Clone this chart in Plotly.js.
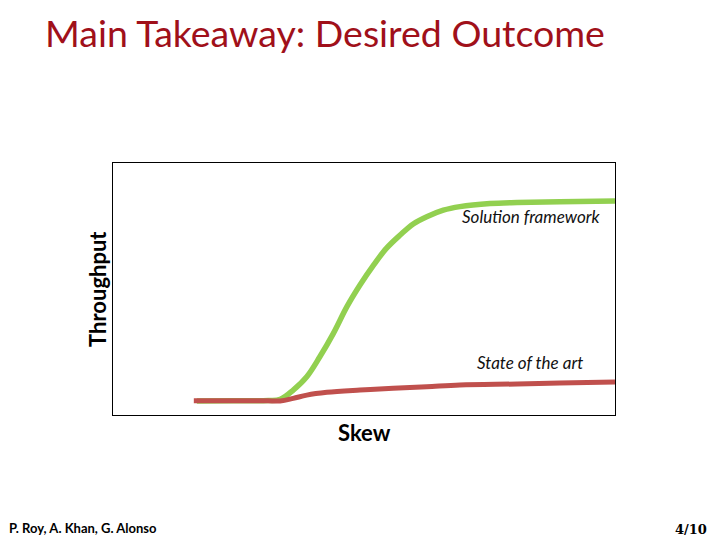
<!DOCTYPE html>
<html>
<head>
<meta charset="utf-8">
<script src="https://cdn.plot.ly/plotly-3.0.1.min.js"></script>
<style>html,body{margin:0;padding:0;background:#fff;}#chart{width:720px;height:540px;}</style>
</head>
<body>
<div id="chart"></div>
<script>
// Data (arbitrary units: skew 0-100, throughput 0-100)
const solutionSkew = [16.7, 24, 31.0, 33.3, 35.9, 38.6, 41.2, 43.9, 46.6, 49.2, 51.9, 54.5, 57.2, 59.8, 62.5, 65.8, 69.1, 75.1, 80.5, 89.0, 100];
const solutionThroughput = [5.6, 5.7, 5.75, 6.2, 9.9, 15.2, 23.1, 32.4, 43.0, 51.6, 59.5, 66.2, 71.4, 75.8, 78.7, 81.3, 82.7, 83.9, 84.3, 84.6, 84.9];
const stateSkew = [16.1, 24, 29.3, 33.3, 35.9, 38.6, 42.6, 49.2, 55.8, 62.5, 69.1, 80.5, 89.0, 100];
const stateThroughput = [5.7, 5.65, 5.7, 5.6, 6.6, 7.9, 9.0, 9.9, 10.6, 11.2, 11.9, 12.3, 12.7, 13.1];
const seriesNames = ["Solution framework", "State of the art"];
const titleText = "Main Takeaway: Desired Outcome";
const xTitle = "Skew";
const yTitle = "Throughput";
const footerLeft = "P. Roy, A. Khan, G. Alonso";
const footerRight = "4/10";

const traces = [
  {x: solutionSkew, y: solutionThroughput, name: seriesNames[0], mode: 'lines',
   line: {color: '#92D050', width: 5.5, shape: 'spline', smoothing: 1.0}},
  {x: stateSkew, y: stateThroughput, name: seriesNames[1], mode: 'lines',
   line: {color: '#C0504D', width: 5, shape: 'spline', smoothing: 1.0}}
];

const layout = {
  width: 720, height: 540,
  margin: {l: 113, r: 105, t: 163, b: 125},
  paper_bgcolor: '#ffffff', plot_bgcolor: '#ffffff',
  showlegend: false,
  font: {family: 'Lato, "Open Sans", sans-serif', color: '#000'},
  title: {text: titleText, x: 0.0625, xanchor: 'left', y: 0.937, yanchor: 'middle',
          xref: 'container', yref: 'container', font: {family: 'Lato, sans-serif', size: 37.5, color: '#A0101A'}},
  xaxis: {range: [0, 100], showgrid: false, zeroline: false, showticklabels: false, ticks: '',
          showline: true, mirror: true, linecolor: '#000', linewidth: 1, fixedrange: true},
  yaxis: {range: [0, 100], showgrid: false, zeroline: false, showticklabels: false, ticks: '',
          showline: true, mirror: true, linecolor: '#000', linewidth: 1, fixedrange: true},
  annotations: [
    {xref: 'paper', yref: 'paper', x: 0.833, y: 0.789, text: seriesNames[0], showarrow: false,
     xanchor: 'center', yanchor: 'middle', font: {size: 17, color: '#111', family: 'Lato, sans-serif', style: 'italic'}},
    {xref: 'paper', yref: 'paper', x: 0.83, y: 0.210, text: seriesNames[1], showarrow: false,
     xanchor: 'center', yanchor: 'middle', font: {size: 17, color: '#111', family: 'Lato, sans-serif', style: 'italic'}},
    {xref: 'paper', yref: 'paper', x: 0.5, y: -0.068, text: xTitle, showarrow: false,
     xanchor: 'center', yanchor: 'middle', font: {size: 22, color: '#000', family: 'Lato, sans-serif', weight: 'bold'}},
    {xref: 'paper', yref: 'paper', x: -0.032, y: 0.5, text: yTitle, showarrow: false, textangle: -90,
     xanchor: 'center', yanchor: 'middle', font: {size: 22, color: '#000', family: 'Lato, sans-serif', weight: 'bold'}},
    {xref: 'paper', yref: 'paper', x: -0.211, y: -0.45, text: footerLeft, showarrow: false,
     xanchor: 'left', yanchor: 'middle', font: {size: 13, color: '#000', family: 'Lato, sans-serif', weight: 'bold'}},
    {xref: 'paper', yref: 'paper', x: 1.187, y: -0.454, text: '<b>' + footerRight + '</b>', showarrow: false,
     xanchor: 'right', yanchor: 'middle', font: {size: 13, color: '#000', family: '"DejaVu Serif", serif'}}
  ]
};

Plotly.newPlot('chart', traces, layout, {staticPlot: true, displayModeBar: false});
</script>
</body>
</html>
